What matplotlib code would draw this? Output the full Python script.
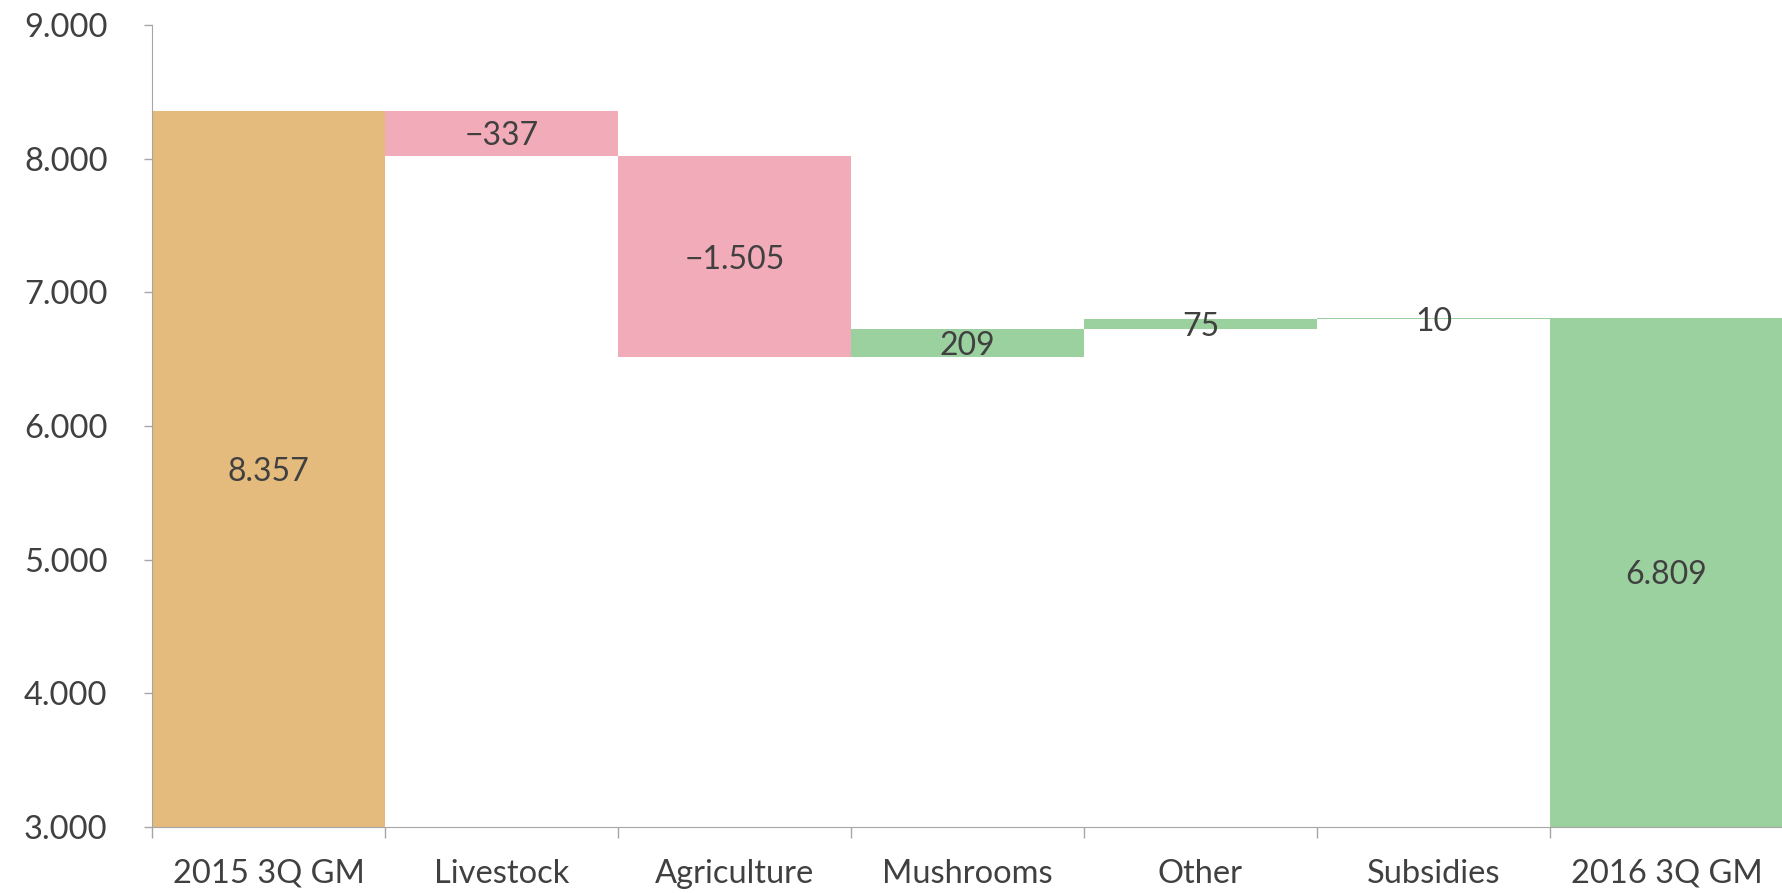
import matplotlib.pyplot as plt
import numpy as np

plt.rcParams['font.family'] = ['Lato', 'DejaVu Sans']

categories = ['2015 3Q GM', 'Livestock', 'Agriculture', 'Mushrooms', 'Other', 'Subsidies', '2016 3Q GM']
changes = [8357, -337, -1505, 209, 75, 10, 6809]
is_total = [True, False, False, False, False, False, True]
yticks = [3000, 4000, 5000, 6000, 7000, 8000, 9000]

tan = '#E4BB7D'
pink = '#F2ABB8'
green = '#9BD09F'
text_col = '#404040'
axis_col = '#A6A6A6'
floor = 3000


def fmt(v):
    s = f'{abs(v):,}'.replace(',', '.')
    return ('\u2212' if v < 0 else '') + s


fig = plt.figure(figsize=(17.83, 8.93), dpi=100)
ax = fig.add_axes([152 / 1783, 1 - 827 / 893, 1 - 152 / 1783, (827 - 25) / 893])

x = np.arange(len(categories))
running = 0
for i, v in enumerate(changes):
    if is_total[i]:
        bottom, height = floor, v - floor
        col = tan if i == 0 else green
        running = v
    else:
        bottom = running if v > 0 else running + v
        height = abs(v)
        col = green if v > 0 else pink
        running += v
    ax.bar(x[i], height, bottom=bottom, width=1.0, color=col, edgecolor='none')
    ax.text(x[i], bottom + height / 2, fmt(v), ha='center', va='center_baseline',
            fontsize=23, color=text_col)

ax.set_xlim(-0.5, len(categories) - 0.5)
ax.set_ylim(3000, 9000)
ax.set_yticks(yticks)
ax.set_yticklabels([fmt(t) for t in yticks])
ax.set_xticks(x)
ax.set_xticklabels(categories)
ax.set_xticks(np.arange(len(categories)) - 0.5, minor=True)
ax.tick_params(axis='x', which='major', length=0, pad=23, labelsize=23.5, labelcolor=text_col)
ax.tick_params(axis='x', which='minor', length=8, color=axis_col, width=1)
ax.tick_params(axis='y', length=6, color=axis_col, width=1, pad=26, labelsize=23.5, labelcolor=text_col)

for s in ['top', 'right']:
    ax.spines[s].set_visible(False)
for s in ['left', 'bottom']:
    ax.spines[s].set_color(axis_col)

fig.savefig('out.png', dpi=100)
